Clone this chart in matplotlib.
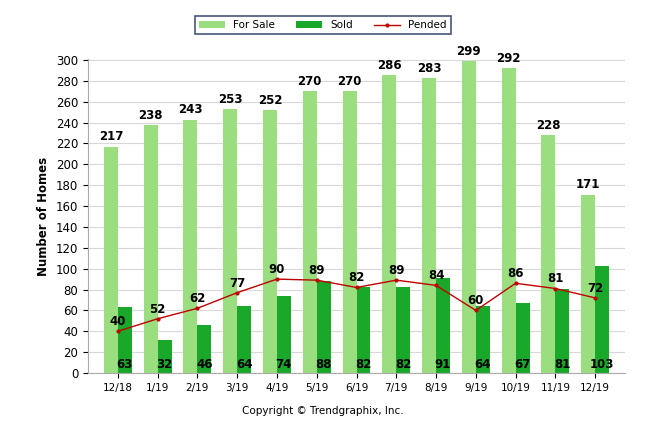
import matplotlib.pyplot as plt
import numpy as np

months = ['12/18', '1/19', '2/19', '3/19', '4/19', '5/19', '6/19',
          '7/19', '8/19', '9/19', '10/19', '11/19', '12/19']
for_sale = [217, 238, 243, 253, 252, 270, 270, 286, 283, 299, 292, 228, 171]
sold = [63, 32, 46, 64, 74, 88, 82, 82, 91, 64, 67, 81, 103]
pended = [40, 52, 62, 77, 90, 89, 82, 89, 84, 60, 86, 81, 72]

fig = plt.figure(figsize=(6.46, 4.34), dpi=100)
ax = fig.add_axes([88 / 646, 61 / 434, 537 / 646, 314 / 434])

x = np.arange(len(months))
w = 0.35
b1 = ax.bar(x - w / 2, for_sale, w, color='#9ade7f', label='For Sale', zorder=2)
b2 = ax.bar(x + w / 2, sold, w, color='#1aa82a', label='Sold', zorder=2)
l1, = ax.plot(x, pended, color='#c00000', lw=1, marker='o', ms=2, label='Pended', zorder=3)

for i in x:
    ax.text(i - w / 2, for_sale[i] + 3, str(for_sale[i]), ha='center', va='bottom',
            fontsize=8.5, fontweight='bold')
    ax.text(i + w / 2, 2, str(sold[i]), ha='center', va='bottom',
            fontsize=8.5, fontweight='bold')
    ax.text(i, pended[i] + 3, str(pended[i]), ha='center', va='bottom',
            fontsize=8.5, fontweight='bold')

ax.set_xlim(-0.75, len(months) - 0.25)
ax.set_ylim(0, 301)
ax.set_yticks(range(0, 301, 20))
ax.set_xticks(x)
ax.set_xticklabels(months, fontsize=7.5)
ax.tick_params(axis='y', labelsize=8.5)
ax.yaxis.grid(True, color='#d8d8d8', lw=0.8, zorder=0)
ax.set_axisbelow(True)
for s in ['top', 'right']:
    ax.spines[s].set_visible(False)
for s in ['left', 'bottom']:
    ax.spines[s].set_color('#aaaaaa')
ax.set_ylabel('Number of Homes', fontsize=8.5, fontweight='bold')

leg = fig.legend([b1, b2, l1], ['For Sale', 'Sold', 'Pended'],
                 loc='upper center', bbox_to_anchor=(0.5, 0.975), ncol=3, fontsize=7.5,
                 frameon=True, fancybox=False, edgecolor='#1a2a5a', handlelength=2.5)
leg.get_frame().set_linewidth(1.2)

fig.text(0.5, 0.045, 'Copyright \u00a9 Trendgraphix, Inc.', ha='center', fontsize=7.5)

fig.savefig('out.png', dpi=100)
